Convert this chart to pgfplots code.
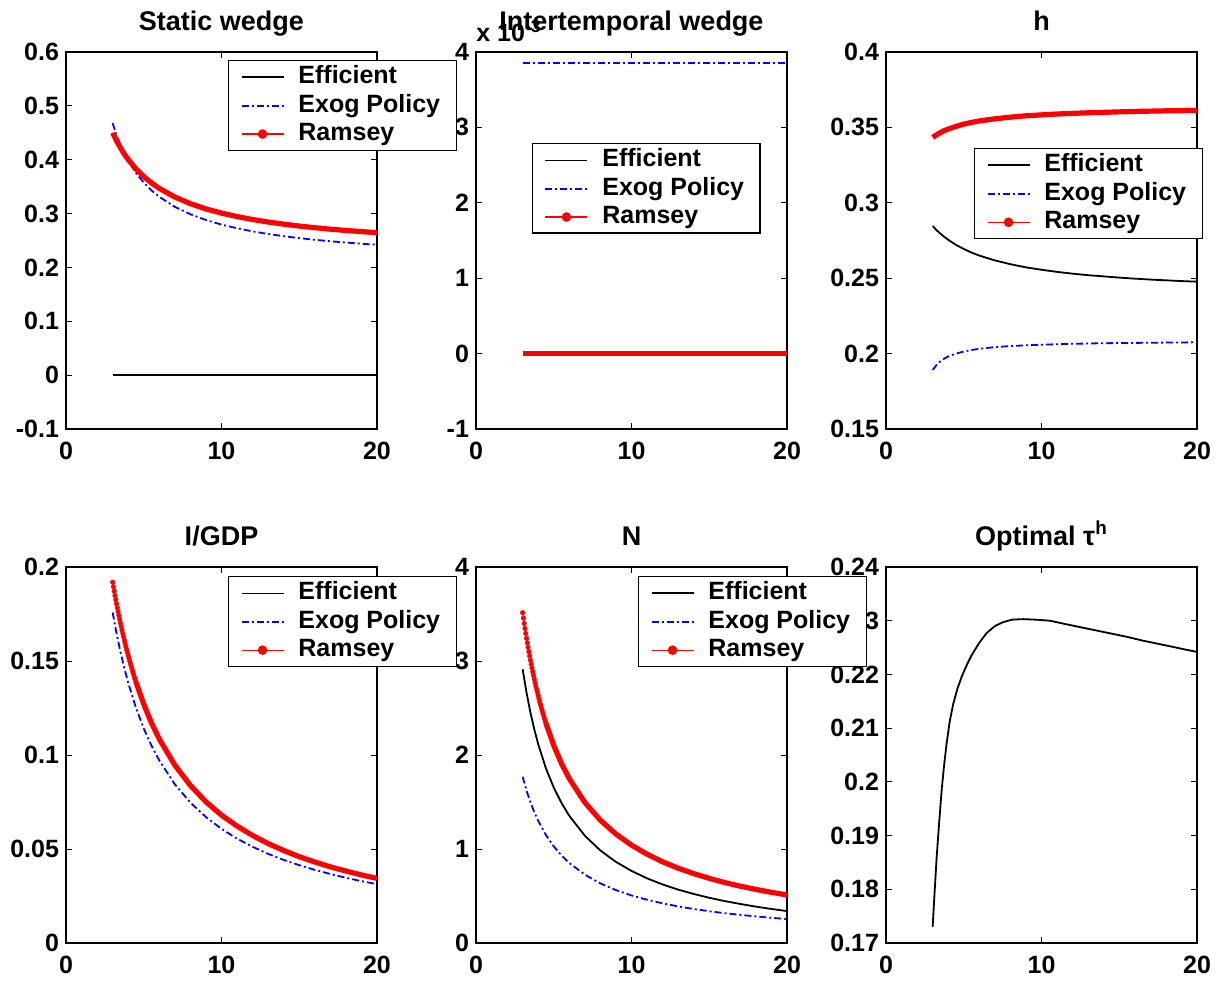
\documentclass[border=0pt]{standalone}
\usepackage{fontspec}
\setmainfont{Liberation Sans}
\usepackage{pgfplots}
\usepackage{pgfplotstable}
\pgfplotsset{compat=1.18}

% columns: x, Efficient, Exog Policy, Ramsey
\pgfplotstableread{
x     eff    exog    ram
3     0      0.4680  0.4500
3.25  0      0.4462  0.4351
3.5   0      0.4277  0.4221
3.75  0      0.4118  0.4105
4     0      0.3980  0.4003
4.5   0      0.3754  0.3829
5     0      0.3575  0.3687
5.5   0      0.3430  0.3568
6     0      0.3311  0.3468
7     0      0.3125  0.3307
8     0      0.2987  0.3184
9     0      0.2880  0.3087
10    0      0.2795  0.3009
11    0      0.2727  0.2944
12    0      0.2669  0.2889
13    0      0.2621  0.2843
14    0      0.2580  0.2803
15    0      0.2545  0.2768
16    0      0.2513  0.2738
17    0      0.2486  0.2710
18    0      0.2462  0.2686
19    0      0.2440  0.2665
20    0      0.2421  0.2645
}\staticw

% intertemporal wedge, in units of 1e-3
\pgfplotstableread{
x     eff  exog  ram
3     0    3.85  0
4     0    3.85  0
5     0    3.85  0
6     0    3.85  0
8     0    3.85  0
10    0    3.85  0
12    0    3.85  0
14    0    3.85  0
16    0    3.85  0
18    0    3.85  0
20    0    3.85  0
}\interw

\pgfplotstableread{
x     eff     exog    ram
3     0.2846  0.1891  0.3434
3.25  0.2819  0.1925  0.3451
3.5   0.2795  0.1949  0.3466
3.75  0.2774  0.1967  0.3479
4     0.2755  0.1981  0.3489
4.5   0.2721  0.2000  0.3507
5     0.2694  0.2014  0.3522
5.5   0.2670  0.2024  0.3533
6     0.2650  0.2032  0.3543
7     0.2618  0.2043  0.3557
8     0.2593  0.2050  0.3568
9     0.2572  0.2055  0.3577
10    0.2556  0.2059  0.3583
11    0.2542  0.2062  0.3589
12    0.2530  0.2065  0.3593
13    0.2520  0.2067  0.3597
14    0.2512  0.2069  0.3600
15    0.2504  0.2070  0.3603
16    0.2497  0.2071  0.3606
17    0.2491  0.2072  0.3608
18    0.2486  0.2073  0.3610
19    0.2481  0.2074  0.3611
20    0.2477  0.2075  0.3613
}\hours

\pgfplotstableread{
x     eff     exog    ram
3     0.1919  0.1758  0.1919
3.25  0.1804  0.1647  0.1804
3.5   0.1702  0.1549  0.1702
3.75  0.1611  0.1462  0.1611
4     0.1529  0.1384  0.1529
4.5   0.1388  0.1251  0.1388
5     0.1270  0.1141  0.1270
5.5   0.1170  0.1049  0.1170
6     0.1085  0.0971  0.1085
7     0.0946  0.0844  0.0946
8     0.0838  0.0747  0.0838
9     0.0751  0.0670  0.0751
10    0.0680  0.0607  0.0680
11    0.0622  0.0555  0.0622
12    0.0572  0.0512  0.0572
13    0.0529  0.0474  0.0529
14    0.0492  0.0442  0.0492
15    0.0459  0.0414  0.0459
16    0.0431  0.0389  0.0431
17    0.0405  0.0367  0.0405
18    0.0383  0.0347  0.0383
19    0.0362  0.0329  0.0362
20    0.0344  0.0313  0.0344
}\invgdp

% Ramsey I/GDP on its fine grid, where the points stand apart
\pgfplotstableread{
x     ram
3.00  0.1919
3.05  0.1895
3.10  0.1871
3.15  0.1848
3.20  0.1826
3.25  0.1804
3.30  0.1783
3.35  0.1762
3.40  0.1742
3.45  0.1722
3.50  0.1702
3.55  0.1683
3.60  0.1665
3.65  0.1647
3.70  0.1629
3.75  0.1611
3.80  0.1594
3.85  0.1578
3.90  0.1561
3.95  0.1545
4.00  0.1529
4.05  0.1514
4.10  0.1499
4.15  0.1484
4.20  0.1470
4.25  0.1455
4.30  0.1441
4.35  0.1428
4.40  0.1414
4.45  0.1401
4.50  0.1388
}\invgdpfine

\pgfplotstableread{
x     eff    exog   ram
3     2.912  1.769  3.514
3.25  2.663  1.622  3.242
3.5   2.452  1.498  3.009
3.75  2.272  1.392  2.807
4     2.115  1.300  2.631
4.5   1.857  1.148  2.336
5     1.654  1.028  2.101
5.5   1.489  0.931  1.908
6     1.353  0.851  1.748
7     1.141  0.727  1.495
8     0.984  0.634  1.306
9     0.863  0.563  1.159
10    0.767  0.506  1.041
11    0.688  0.460  0.945
12    0.623  0.422  0.864
13    0.568  0.389  0.796
14    0.522  0.362  0.738
15    0.481  0.338  0.688
16    0.446  0.317  0.643
17    0.415  0.299  0.604
18    0.387  0.283  0.570
19    0.362  0.268  0.539
20    0.340  0.255  0.511
}\nvar

\pgfplotstableread{
x     ram
3.00  3.514
3.05  3.456
3.10  3.400
3.15  3.346
3.20  3.293
3.25  3.242
3.30  3.193
3.35  3.145
3.40  3.098
3.45  3.053
3.50  3.009
3.55  2.967
3.60  2.925
3.65  2.885
3.70  2.846
3.75  2.807
3.80  2.770
3.85  2.734
3.90  2.699
3.95  2.664
4.00  2.631
4.05  2.598
4.10  2.566
4.15  2.535
4.20  2.505
4.25  2.475
4.30  2.446
4.35  2.418
4.40  2.390
4.45  2.363
4.50  2.336
}\nvarfine

\pgfplotstableread{
x      tau
3      0.1730
3.13   0.1797
3.26   0.1861
3.42   0.1925
3.58   0.1985
3.74   0.2032
3.90   0.2072
4.1    0.2113
4.33   0.2146
4.6    0.2174
4.87   0.2196
5.2    0.2218
5.51   0.2236
6      0.2259
6.47   0.2277
7      0.2290
7.5    0.2297
8.1    0.2302
8.83   0.2303
9.6    0.2302
10.55  0.2300
11.5   0.2294
12.5   0.2288
13.5   0.2282
14.5   0.2276
15.5   0.2270
16.5   0.2263
17.5   0.2257
18.5   0.2251
19.3   0.2246
20     0.2242
}\taush

\pgfplotsset{
  mat/.style={
    scale only axis, width=155.5pt, height=188.5pt,
    xmin=0, xmax=20, xtick={0,10,20},
    tick align=inside, tick pos=both, major tick length=3pt,
    axis line style={line width=0.8pt},
    every tick/.style={black, line width=0.5pt},
    scaled ticks=false,
    /pgf/number format/assume math mode=true,
    yticklabel style={/pgf/number format/fixed, /pgf/number format/precision=2},
    xticklabel style={yshift=-3pt},
    tick label style={font=\bfseries\fontsize{12.5}{15}\selectfont},
    title style={at={(0.5,1)}, anchor=base, yshift=5pt,
      font=\bfseries\fontsize{13.5}{16}\selectfont},
    legend cell align=left,
    legend style={draw=black, line width=0.6pt, fill=white, anchor=north west,
      font=\bfseries\fontsize{12.5}{15}\selectfont, row sep=-1.2pt, column sep=5pt,
      inner xsep=6pt, inner ysep=0.5pt, nodes={inner xsep=2pt, inner ysep=2pt, text depth=0.25em}},
  },
  eff/.style={black, line width=0.9pt,
    legend image code/.code={\draw[black, line width=0.9pt] (0pt,0pt) -- (21pt,0pt);}},
  effthin/.style={black, line width=0.5pt,
    legend image code/.code={\draw[black, line width=0.5pt] (0pt,0pt) -- (21pt,0pt);}},
  exog/.style={blue, line width=0.9pt, dash pattern=on 3.5pt off 1.5pt on 1pt off 1.5pt,
    legend image code/.code={\draw[blue, line width=0.9pt,
      dash pattern=on 3.5pt off 1.5pt on 1pt off 1.5pt] (0pt,0pt) -- (21pt,0pt);}},
  ram/.style={red, line width=2.6pt,
    legend image code/.code={\draw[red, line width=0.6pt] (0pt,0pt) -- (21pt,0pt);
      \fill[red] (10.5pt,0pt) circle (1pt);}},
  ramfine/.style={red, line width=0.6pt, mark=*, mark size=1.15pt,
    mark options={solid, fill=red, draw=red, line width=0.2pt}},
}

\begin{document}
\begin{tikzpicture}
\path[use as bounding box] (0,0) rectangle (610.5pt,-490.5pt);

% Intertemporal wedge (drawn before Static wedge, whose legend overlaps it)
\begin{axis}[mat, at={(238pt,-26pt)}, anchor=north west, clip=false,
  title={Intertemporal wedge}, ymin=-1, ymax=4, ytick={-1,0,1,2,3,4},
  legend style={at={(0.180,0.759)}}]
\addplot[effthin] table[x=x, y=eff] {\interw};
\addplot[exog] table[x=x, y=exog] {\interw};
\addplot[ram] table[x=x, y=ram] {\interw};
\legend{Efficient, Exog Policy, Ramsey}
\node[anchor=base west, inner sep=0pt, font=\bfseries\fontsize{12.5}{15}\selectfont]
  at (rel axis cs:0,1) [yshift=5.5pt] {x 10\textsuperscript{-3}};
\end{axis}

\begin{axis}[mat, at={(33pt,-26pt)}, anchor=north west,
  title={Static wedge}, ymin=-0.1, ymax=0.6, ytick={-0.1,0,0.1,0.2,0.3,0.4,0.5,0.6},
  legend style={at={(0.521,0.979)}}]
\addplot[eff] table[x=x, y=eff] {\staticw};
\addplot[exog] table[x=x, y=exog] {\staticw};
\addplot[ram] table[x=x, y=ram] {\staticw};
\legend{Efficient, Exog Policy, Ramsey}
\end{axis}

\begin{axis}[mat, at={(443pt,-26pt)}, anchor=north west,
  title={h}, ymin=0.15, ymax=0.4, ytick={0.15,0.2,0.25,0.3,0.35,0.4},
  legend style={at={(0.283,0.745)}}]
\addplot[eff] table[x=x, y=eff] {\hours};
\addplot[exog] table[x=x, y=exog] {\hours};
\addplot[ram] table[x=x, y=ram] {\hours};
\legend{Efficient, Exog Policy, Ramsey}
\end{axis}

\begin{axis}[mat, at={(443pt,-283.5pt)}, anchor=north west, height=188pt,
  title={Optimal τ\textsuperscript{h}}, ymin=0.17, ymax=0.24,
  ytick={0.17,0.18,0.19,0.2,0.21,0.22,0.23,0.24}]
\addplot[eff] table[x=x, y=tau] {\taush};
\end{axis}

\begin{axis}[mat, at={(238pt,-283.5pt)}, anchor=north west, height=188pt,
  title={N}, ymin=0, ymax=4, ytick={0,1,2,3,4},
  legend style={at={(0.521,0.976)}}]
\addplot[eff] table[x=x, y=eff] {\nvar};
\addplot[exog] table[x=x, y=exog] {\nvar};
\addplot[ram, restrict x to domain=4.5:20] table[x=x, y=ram] {\nvar};
\addplot[ramfine, forget plot] table[x=x, y=ram] {\nvarfine};
\legend{Efficient, Exog Policy, Ramsey}
\end{axis}

\begin{axis}[mat, at={(33pt,-283.5pt)}, anchor=north west, height=188pt,
  title={I/GDP}, ymin=0, ymax=0.2, ytick={0,0.05,0.1,0.15,0.2},
  legend style={at={(0.521,0.976)}}]
\addplot[effthin] table[x=x, y=eff] {\invgdp};
\addplot[exog] table[x=x, y=exog] {\invgdp};
\addplot[ram, restrict x to domain=4.5:20] table[x=x, y=ram] {\invgdp};
\addplot[ramfine, forget plot] table[x=x, y=ram] {\invgdpfine};
\legend{Efficient, Exog Policy, Ramsey}
\end{axis}
\end{tikzpicture}
\end{document}
